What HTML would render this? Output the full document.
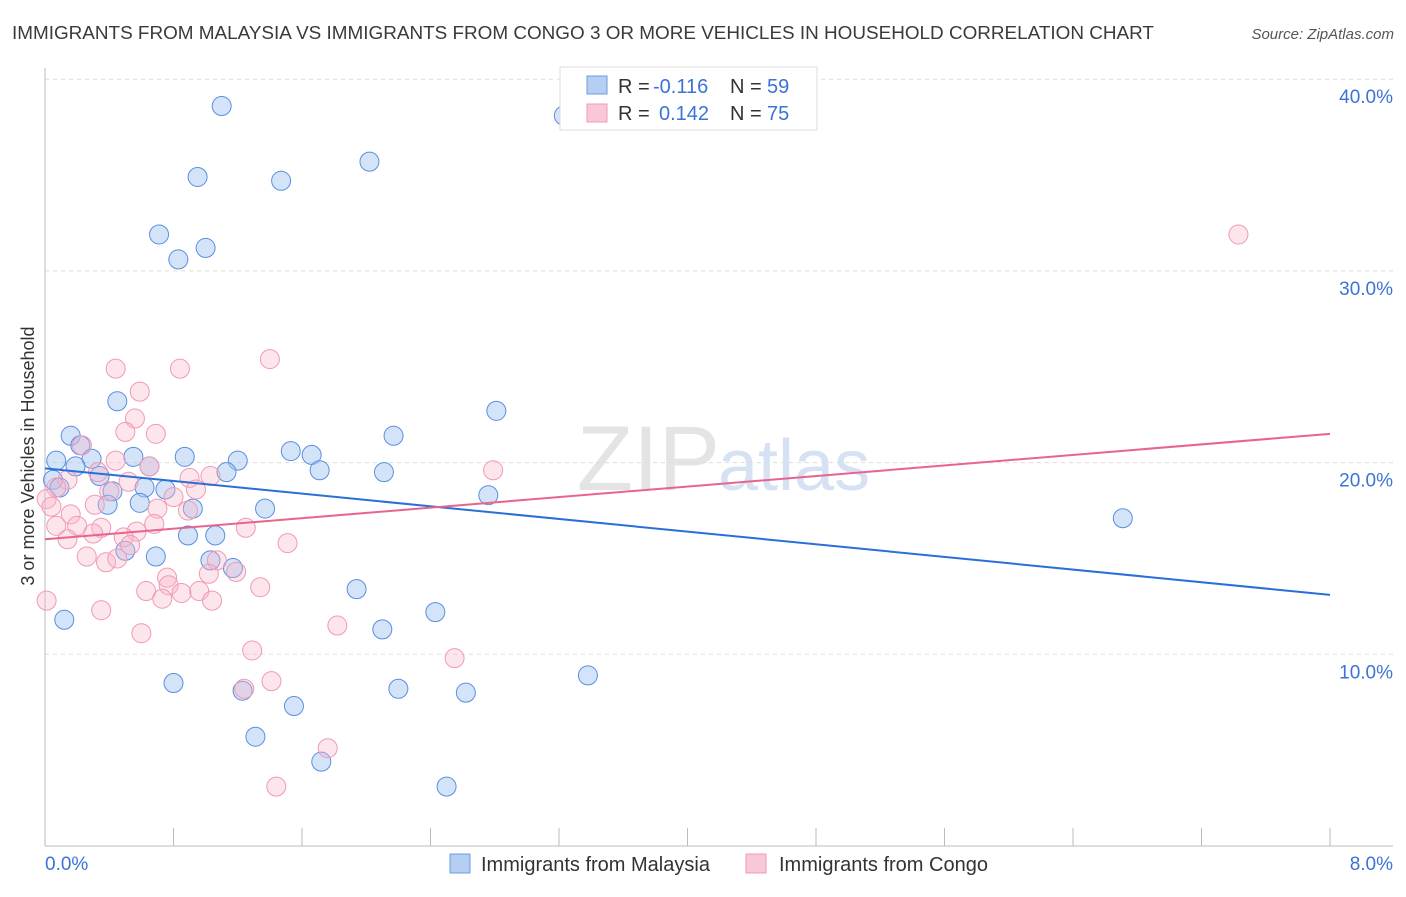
<!DOCTYPE html>
<html><head><meta charset="utf-8"><style>
body{margin:0;background:#fff;font-family:"Liberation Sans",sans-serif;}
svg text{font-family:"Liberation Sans",sans-serif;}
</style></head><body>
<svg id="chart" width="1406" height="892">
<text x="12" y="39" font-size="18.9" fill="#3a3a3a">IMMIGRANTS FROM MALAYSIA VS IMMIGRANTS FROM CONGO 3 OR MORE VEHICLES IN HOUSEHOLD CORRELATION CHART</text>
<text x="1394" y="39" font-size="15" fill="#555" text-anchor="end" font-style="italic">Source: ZipAtlas.com</text>
<text x="720" y="490" font-size="92" fill="#e4e4e4" text-anchor="end" font-family="Liberation Serif">ZIP</text>
<text x="718" y="490" font-size="72" fill="#d6e2f3">atlas</text>
<g id="grid"></g><g id="axes"></g><g id="pts"></g><g id="trends"></g>
<text transform="translate(34,456) rotate(-90)" font-size="18" fill="#333" text-anchor="middle">3 or more Vehicles in Household</text>
<text x="45" y="870" font-size="19" fill="#3b73d6">0.0%</text>
<text x="1393" y="870" font-size="19" fill="#3b73d6" text-anchor="end">8.0%</text>
<g>
<rect x="560" y="67" width="257" height="63" fill="#fff" stroke="#ddd"/>
<rect x="587" y="76" width="20" height="18" fill="#b5cff3" stroke="#6a9be0"/>
<rect x="587" y="104" width="20" height="18" fill="#f9c8d7" stroke="#f09ab5"/>
<text x="618" y="93" font-size="20" fill="#333">R =</text>
<text x="653" y="93" font-size="20" fill="#3b73d6">-0.116</text>
<text x="730" y="93" font-size="20" fill="#333">N =</text>
<text x="767" y="93" font-size="20" fill="#3b73d6">59</text>
<text x="618" y="120" font-size="20" fill="#333">R =</text>
<text x="659" y="120" font-size="20" fill="#3b73d6">0.142</text>
<text x="730" y="120" font-size="20" fill="#333">N =</text>
<text x="767" y="120" font-size="20" fill="#3b73d6">75</text>
</g>
<g>
<rect x="450" y="854" width="20" height="19" fill="#b5cff3" stroke="#6a9be0"/>
<text x="481" y="871" font-size="20" fill="#333">Immigrants from Malaysia</text>
<rect x="746" y="854" width="20" height="19" fill="#f9c8d7" stroke="#f09ab5"/>
<text x="779" y="871" font-size="20" fill="#333">Immigrants from Congo</text>
</g>
</svg>
<script>
const yTicks=[10,20,30,40];
const yTickLabels=["10.0%","20.0%","30.0%","40.0%"];
const xTicks=[0,0.8,1.6,2.4,3.2,4.0,4.8,5.6,6.4,7.2,8.0];
const malaysiaX=[1.10,3.23,2.02,0.95,1.47,0.71,1.00,0.83,0.45,2.81,0.16,2.17,0.22,1.53,1.66,0.07,0.55,0.87,1.20,0.29,0.19,0.65,1.13,1.71,2.11,0.34,0.05,0.09,0.62,0.75,0.42,2.76,0.59,0.39,0.92,1.37,6.71,0.89,1.06,0.50,0.69,1.03,1.17,1.94,2.43,0.12,2.10,3.38,0.80,1.23,2.20,2.62,1.55,1.31,1.72,2.50];
const malaysiaY=[38.6,38.1,35.7,34.9,34.7,31.9,31.2,30.6,23.2,22.7,21.4,21.4,20.9,20.6,20.4,20.1,20.3,20.3,20.1,20.2,19.8,19.8,19.5,19.6,19.5,19.3,19.1,18.7,18.7,18.6,18.5,18.3,17.9,17.8,17.6,17.6,17.1,16.2,16.2,15.4,15.1,14.9,14.5,13.4,12.2,11.8,11.3,8.9,8.5,8.1,8.2,8.0,7.3,5.7,4.4,3.1];
const congoX=[7.43,1.40,0.44,0.84,0.59,0.56,0.50,0.69,0.23,0.44,2.79,0.65,0.33,0.90,1.03,0.14,0.52,0.07,0.80,0.94,0.40,0.01,0.31,0.04,0.70,0.89,0.16,0.68,0.20,0.07,0.35,1.25,0.57,0.30,0.49,0.14,1.51,0.53,0.26,0.38,0.45,1.07,0.76,1.02,1.19,0.77,1.34,0.63,0.85,0.96,0.73,1.04,0.01,0.35,1.82,0.60,1.29,2.55,1.41,1.24,1.76,1.44];
const congoY=[31.9,25.4,24.9,24.9,23.7,22.3,21.6,21.5,20.9,20.1,19.6,19.8,19.5,19.2,19.3,19.1,19.0,18.7,18.2,18.6,18.5,18.1,17.8,17.7,17.6,17.5,17.3,16.8,16.7,16.7,16.6,16.6,16.4,16.3,16.1,16.0,15.8,15.7,15.1,14.8,15.0,14.9,14.0,14.2,14.3,13.6,13.5,13.3,13.2,13.3,12.9,12.8,12.8,12.3,11.5,11.1,10.2,9.8,8.6,8.2,5.1,3.1];
const malaysiaTrend=[19.7,13.1];
const congoTrend=[16.0,21.5];
const sx=v=>45+v/8*1285;
const sy=v=>846-v*19.17;
const NS="http://www.w3.org/2000/svg";
function mk(tag,attrs,parent){const e=document.createElementNS(NS,tag);for(const k in attrs)e.setAttribute(k,attrs[k]);document.getElementById(parent).appendChild(e);return e;}
yTicks.forEach((t,i)=>{
 const l=mk('line',{x1:45,x2:1393,y1:sy(t),y2:sy(t),stroke:'#ddd','stroke-dasharray':'4,4'},'grid');
 
 
 const tx=mk('text',{x:1393,y:sy(t)+24,'font-size':19,fill:'#3b73d6','text-anchor':'end'},'grid');
 tx.textContent=yTickLabels[i];
 
 
});
const ya=mk('line',{x1:45,x2:45,y1:68,y2:846,stroke:'#bbb'},'axes');


const xa=mk('line',{x1:45,x2:1393,y1:846,y2:846,stroke:'#bbb'},'axes');


xTicks.forEach(t=>{
 const l=mk('line',{x1:sx(t),x2:sx(t),y1:828,y2:846,stroke:'#bbb'},'axes');
 
 
});
malaysiaX.forEach((x,i)=>{
 const c=mk('circle',{cx:sx(x),cy:sy(malaysiaY[i]),r:9.5,fill:'rgba(160,196,240,0.45)',stroke:'#5b8ee0','stroke-width':1},'pts');
 
 
});
congoX.forEach((x,i)=>{
 const c=mk('circle',{cx:sx(x),cy:sy(congoY[i]),r:9.5,fill:'rgba(248,180,200,0.35)',stroke:'#f09ab5','stroke-width':1},'pts');
 
 
});
const bt=mk('line',{x1:sx(0),x2:sx(8),y1:sy(malaysiaTrend[0]),y2:sy(malaysiaTrend[1]),stroke:'#2a6fd8','stroke-width':2},'trends');


const pt=mk('line',{x1:sx(0),x2:sx(8),y1:sy(congoTrend[0]),y2:sy(congoTrend[1]),stroke:'#e8648e','stroke-width':2},'trends');


</script>
</body></html>
